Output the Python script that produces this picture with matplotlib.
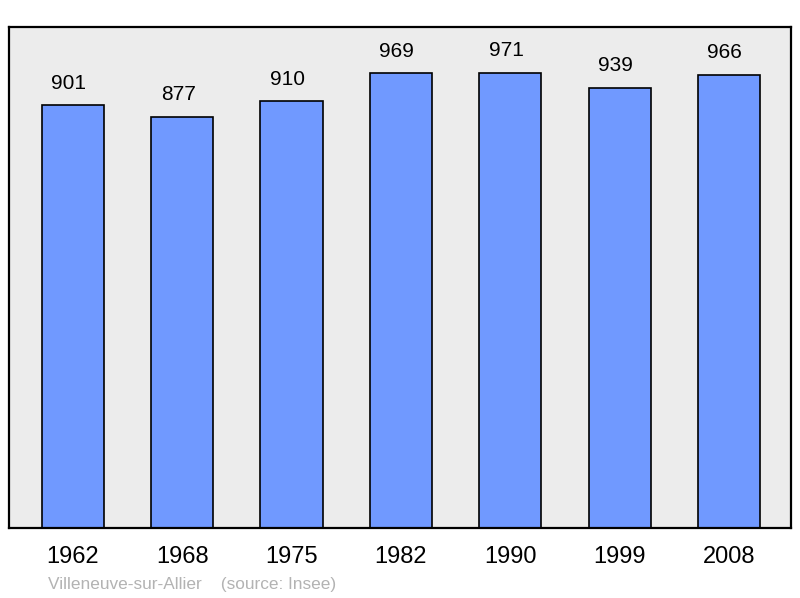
import matplotlib
matplotlib.use("Agg")
import matplotlib.pyplot as plt

years = ["1962", "1968", "1975", "1982", "1990", "1999", "2008"]
population = [901, 877, 910, 969, 971, 939, 966]

plt.rcParams['font.family'] = ['Liberation Sans', 'DejaVu Sans']

fig = plt.figure(figsize=(8, 5.98), dpi=100)
ax = fig.add_axes([9 / 800, 70 / 598, 782 / 800, 501 / 598])
ax.set_facecolor("#ececec")

x = list(range(len(years)))
ax.bar(x, population, width=0.57, color="#7099ff", edgecolor="black", linewidth=1.2, zorder=2)

for xi, v in zip(x, population):
    ax.annotate(str(v), (xi, v), xytext=(-3, 9), textcoords="offset points",
                ha="center", va="bottom", fontsize=15)

ax.set_xlim(-0.585, 6.567)
ax.set_ylim(0, max(population) * 1.1)
ax.set_yticks([])
ax.set_xticks(x)
ax.set_xticklabels(years, fontsize=17)
ax.tick_params(axis="x", length=0, pad=13)
for s in ax.spines.values():
    s.set_linewidth(1.6)
    s.set_color("black")

fig.text(48 / 800, 1 - 584 / 598, "Villeneuve-sur-Allier    (source: Insee)",
         fontsize=12.4, color="#b3b3b3", va="center", ha="left")

fig.savefig("out.png", dpi=100)
